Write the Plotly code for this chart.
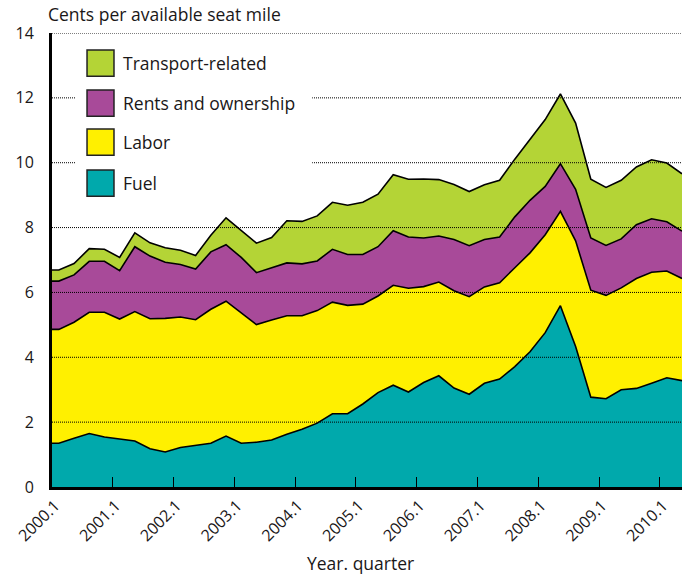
import plotly.graph_objects as go

# ---------------- data (cents per available seat mile) ----------------
quarters = [
    "2000.1", "2000.2", "2000.3", "2000.4", "2001.1", "2001.2", "2001.3", "2001.4",
    "2002.1", "2002.2", "2002.3", "2002.4", "2003.1", "2003.2", "2003.3", "2003.4",
    "2004.1", "2004.2", "2004.3", "2004.4", "2005.1", "2005.2", "2005.3", "2005.4",
    "2006.1", "2006.2", "2006.3", "2006.4", "2007.1", "2007.2", "2007.3", "2007.4",
    "2008.1", "2008.2", "2008.3", "2008.4", "2009.1", "2009.2", "2009.3", "2009.4",
    "2010.1", "2010.2",
]

fuel = [1.35, 1.50, 1.65, 1.54, 1.48, 1.42, 1.18, 1.08, 1.22, 1.29, 1.35, 1.57,
        1.35, 1.38, 1.45, 1.63, 1.78, 1.97, 2.26, 2.26, 2.56, 2.91, 3.14, 2.93,
        3.22, 3.43, 3.05, 2.86, 3.20, 3.33, 3.71, 4.17, 4.76, 5.59, 4.33, 2.77,
        2.72, 3.00, 3.04, 3.20, 3.37, 3.28]

labor = [3.51, 3.58, 3.74, 3.85, 3.70, 3.99, 4.01, 4.12, 4.02, 3.87, 4.13, 4.16,
         4.02, 3.63, 3.70, 3.65, 3.50, 3.47, 3.44, 3.34, 3.08, 2.98, 3.08, 3.20,
         2.96, 2.89, 3.00, 3.01, 2.97, 2.97, 3.05, 3.05, 3.02, 2.91, 3.26, 3.30,
         3.19, 3.14, 3.39, 3.42, 3.29, 3.15]

rents = [1.49, 1.46, 1.57, 1.57, 1.49, 2.00, 1.93, 1.73, 1.62, 1.56, 1.77, 1.74,
         1.71, 1.60, 1.62, 1.63, 1.60, 1.53, 1.63, 1.57, 1.53, 1.52, 1.68, 1.58,
         1.50, 1.42, 1.58, 1.57, 1.46, 1.41, 1.57, 1.62, 1.49, 1.47, 1.59, 1.61,
         1.54, 1.51, 1.66, 1.65, 1.52, 1.46]

transport = [0.34, 0.35, 0.39, 0.37, 0.41, 0.43, 0.41, 0.45, 0.44, 0.42, 0.51, 0.83,
             0.83, 0.91, 0.92, 1.30, 1.31, 1.39, 1.45, 1.52, 1.61, 1.62, 1.73, 1.78,
             1.82, 1.74, 1.70, 1.67, 1.69, 1.75, 1.78, 1.89, 2.06, 2.15, 2.04, 1.81,
             1.79, 1.81, 1.78, 1.82, 1.81, 1.77]

tick_labels = ["2000.1", "2001.1", "2002.1", "2003.1", "2004.1", "2005.1",
               "2006.1", "2007.1", "2008.1", "2009.1", "2010.1"]
y_ticks = [0, 2, 4, 6, 8, 10, 12, 14]

series_names = ["Fuel", "Labor", "Rents and ownership", "Transport-related"]
series_values = [fuel, labor, rents, transport]
series_colors = ["#00A9AC", "#FFF000", "#A84A99", "#B4D436"]

# ---------------- figure ----------------
FONT = "Open Sans, Lato, DejaVu Sans, sans-serif"
TEXT = "#1A1718"
x_idx = list(range(len(quarters)))
pos_of = {q: i for i, q in enumerate(quarters)}
EDGE = -0.45  # year ticks sit at the left boundary of each first quarter

fig = go.Figure()
for name, vals, col in zip(series_names, series_values, series_colors):
    # the first quarter's band is carried flat to the left boundary, as in the original
    xs = [EDGE] + x_idx
    ys = [vals[0]] + vals
    labels = [quarters[0]] + quarters
    fig.add_trace(go.Scatter(
        x=xs, y=ys, name=name, mode="lines",
        stackgroup="one", fillcolor=col,
        line=dict(color="black", width=1.6),
        showlegend=False,
        customdata=labels,
        hovertemplate="%{customdata}: %{y:.2f}<extra>" + name + "</extra>",
    ))

shapes = []
# dotted grid lines drawn above the filled areas
for v in y_ticks[1:]:
    shapes.append(dict(type="line", xref="paper", yref="y", x0=0, x1=1, y0=v, y1=v,
                       line=dict(color="black", width=1, dash="1px,1px"), layer="above"))

# custom legend (white box, square swatches, labels)
shapes.append(dict(type="rect", xref="paper", yref="paper", x0=0.038, x1=0.413,
                   y0=0.62, y1=0.985, fillcolor="white", line=dict(width=0), layer="above"))
legend_order = [3, 2, 1, 0]
sw_tops = [0.9626, 0.8744, 0.7885, 0.6982]
sw_h = 0.058
annotations = []
for top, si in zip(sw_tops, legend_order):
    shapes.append(dict(type="rect", xref="paper", yref="paper", x0=0.0556, x1=0.0984,
                       y0=top - sw_h, y1=top, fillcolor=series_colors[si],
                       line=dict(color="#222222", width=1.5), layer="above"))
    annotations.append(dict(xref="paper", yref="paper", x=0.110, y=top - sw_h / 2,
                            text=series_names[si], showarrow=False, xanchor="left",
                            yanchor="middle", font=dict(family=FONT, size=17.5, color=TEXT)))

annotations.append(dict(xref="paper", yref="paper", x=-0.01, y=1.0, yshift=5, xanchor="left",
                        yanchor="bottom", text="Cents per available seat mile",
                        showarrow=False, font=dict(family=FONT, size=17.5, color=TEXT)))
annotations.append(dict(xref="paper", yref="paper", x=0.49, y=-0.168, xanchor="center",
                        yanchor="middle", text="Year. quarter",
                        showarrow=False, font=dict(family=FONT, size=17.5, color=TEXT)))

fig.update_layout(
    width=689, height=575,
    margin=dict(l=52, r=7, t=33, b=88, autoexpand=False),
    paper_bgcolor="white", plot_bgcolor="white",
    font=dict(family=FONT, size=16, color=TEXT),
    shapes=shapes, annotations=annotations,
    showlegend=False,
)
fig.update_xaxes(
    range=[EDGE, len(quarters) - 1],
    tickmode="array",
    tickvals=[pos_of[t] + EDGE for t in tick_labels],
    ticktext=tick_labels,
    tickangle=-45,
    ticks="inside", ticklen=10, tickwidth=1.3, tickcolor="black",
    ticklabelstandoff=0, ticklabelshift=3,
    showline=True, linewidth=3, linecolor="black",
    showgrid=False, zeroline=False, layer="above traces", automargin=False,
    tickfont=dict(family=FONT, size=16, color=TEXT),
)
fig.update_yaxes(
    range=[0, 14],
    tickmode="array", tickvals=y_ticks,
    ticks="outside", ticklen=12, tickcolor="rgba(0,0,0,0)",
    showline=True, linewidth=3, linecolor="black",
    showgrid=False, zeroline=False, layer="above traces", automargin=False,
    tickfont=dict(family=FONT, size=16, color=TEXT),
)

fig.write_html("out.html",
               config={"displayModeBar": False},
               post_script="document.body.style.margin='0';document.body.style.padding='0';")
